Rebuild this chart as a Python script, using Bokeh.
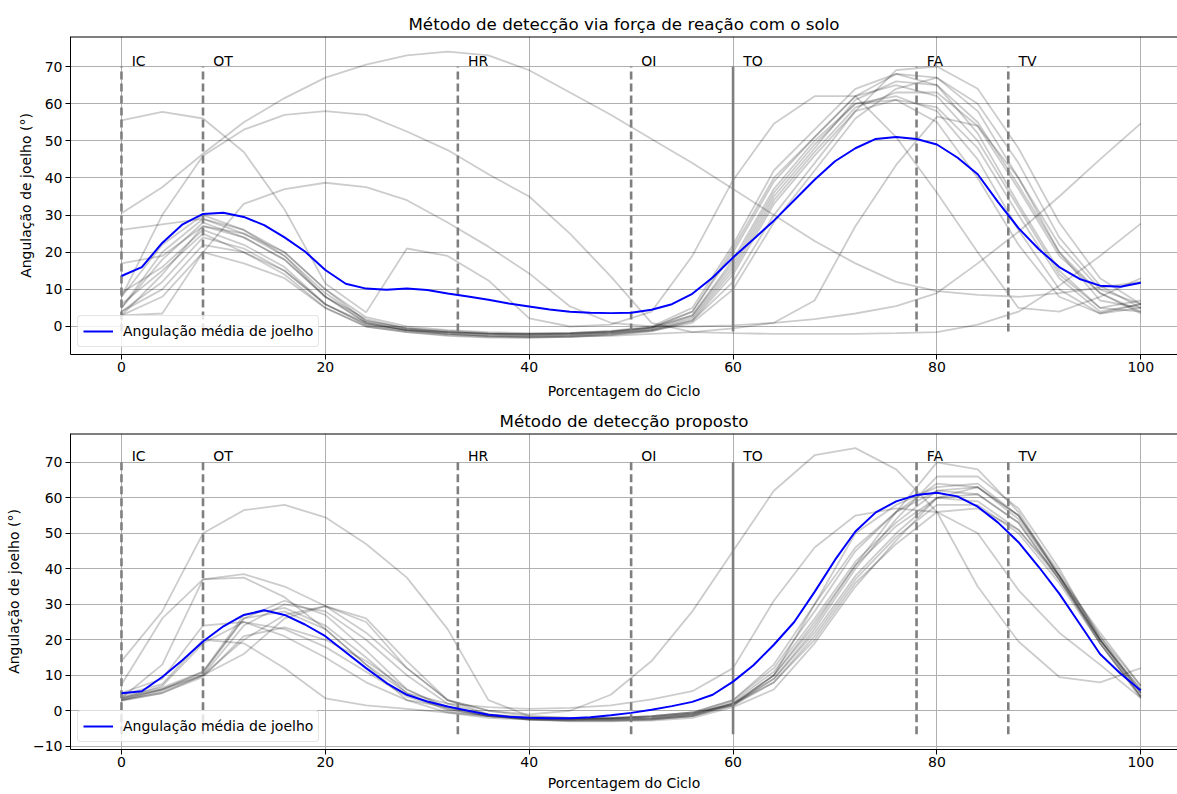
from bokeh.plotting import figure
from bokeh.models import Range1d, Span, FixedTicker, CustomJSTickFormatter, ColumnDataSource
from bokeh.layouts import column
from bokeh.embed import file_html
from bokeh.resources import INLINE
from bokeh.core.properties import value

FONT = "DejaVu Sans"

# ---------------- data ----------------
X_TRIAL = list(range(0, 101, 4))   # percent of gait cycle, individual trials
X_MEAN = list(range(0, 101, 2))    # percent of gait cycle, mean curve

EVENT_X = [0, 8, 33, 50, 60, 78, 87]
EVENT_LABELS = ["IC", "OT", "HR", "OI", "TO", "FA", "TV"]
EVENT_SOLID = [False, False, False, False, True, False, False]

TITLE_TOP = "Método de detecção via força de reação com o solo"
TITLE_BOTTOM = "Método de detecção proposto"
X_LABEL = "Porcentagem do Ciclo"
Y_LABEL = "Angulação de joelho (°)"
LEGEND_LABEL = "Angulação média de joelho"

# top panel trials
top_c01 = [3, 14, 27, 25, 19, 8, 1, -1, -1.5, -2, -2.3, -2.2, -1.8, -1, 1.5, 14, 33, 46, 58, 61, 59, 48, 30, 13, 4, 6]
top_c02 = [5, 18, 28, 24, 18, 8, 2, -0.5, -1.2, -1.8, -2, -2, -1.5, -0.5, 3, 17, 36, 49, 60, 62, 58, 45, 26, 10, 3.5, 5]
top_c03 = [8, 22, 30, 26, 20, 10, 1.5, -0.5, -1.5, -2, -2.2, -2, -1.5, -0.3, 4, 20, 39, 51, 62, 65, 62, 50, 32, 14, 5, 7]
top_c04 = [9, 16, 26, 22, 16, 6, 0.5, -1, -2, -2.5, -2.8, -2.5, -2, -1, 2, 15, 34, 47, 59, 63, 63, 54, 37, 19, 9, 4]
top_c05 = [4, 12, 24, 21, 15, 6, 0.5, -1.2, -2, -2.5, -2.5, -2.3, -1.8, -0.8, 2.5, 16, 35, 48, 61, 66, 65, 55, 38, 20, 9, 3.5]
top_c06 = [5, 20, 29, 25, 20, 10, 2.5, 0, -1, -1.5, -1.8, -1.7, -1.2, 0, 5, 22, 42, 53, 64, 68, 65, 52, 33, 15, 5, 4]
top_c07 = [6, 15, 25, 20, 14, 5, 0, -1.5, -2.3, -2.8, -3, -2.8, -2.3, -1.3, 1.5, 12, 30, 44, 58, 69, 70, 64, 48, 28, 13, 6]
top_c08 = [17, 19, 27, 24, 18, 8, 1, -1, -1.5, -2, -2, -1.8, -1.3, -0.3, 3, 18, 37, 50, 60, 61, 55, 40, 22, 8, 3.5, 6]
top_c09 = [3, 8, 20, 17, 13, 5, 0, -1.5, -2.5, -3, -3, -2.8, -2.2, -1.2, 1, 10, 28, 42, 56, 64, 67, 60, 44, 24, 11, 5]
top_c10 = [26, 27.5, 29, 26, 19, 9, 1.5, -0.5, -1.5, -2, -2, -1.8, -1.3, -0.3, 4, 21, 40, 51, 62, 68, 67, 58, 40, 20, 7, 5]
top_o1 = [30.5, 37.5, 46.5, 55, 61.5, 67, 70.5, 73, 74, 73, 69, 63, 57, 50.5, 44, 37, 30, 23, 17, 12, 9.5, 8.5, 8, 9, 10.5, 12]
top_o2 = [55.5, 57.8, 56, 47, 31.5, 11.6, 3.8, 21, 19, 12.4, 2.2, 0, 0.5, 4, 19, 39.4, 54.6, 62, 62, 51, 36, 20, 5, 4, 8, 13]
top_o3 = [8, 30, 46, 53, 57, 58, 57, 52.5, 47.5, 41, 35, 25, 13.5, 1, -1.5, -1.8, -2, -2, -2, -1.8, -1.5, 0.5, 4, 11, 19, 27.7]
top_o4 = [3, 3.5, 20, 33, 37, 38.7, 37.5, 34, 28, 21.5, 14.3, 5.4, 1, 0, 0, 0.3, 1, 2, 3.5, 5.5, 9, 17, 25.5, 35, 45, 54.7]
top_o6 = [4, 10, 22, 20, 15, 6, 1, -1, -2, -2.5, -2.7, -2.7, -2.5, -2, -1.5, -0.5, 1, 7, 27, 43.5, 56.5, 54, 40, 22, 10, 6]
TOP_TRIALS = [top_c01, top_c02, top_c03, top_c04, top_c05, top_c06, top_c07, top_c08,
              top_c09, top_c10, top_o1, top_o2, top_o3, top_o4, top_o6]

top_mean = [13.6, 16, 22.5, 27.5, 30.3, 30.6, 29.5, 27.3, 24, 20.2, 15.2, 11.5, 10.2, 9.9, 10.2,
            9.8, 8.9, 8.1, 7.2, 6.2, 5.4, 4.6, 4.0, 3.7, 3.6, 3.7, 4.5, 6.0, 8.8, 13.2, 18.6,
            23.5, 28.5, 34, 39.5, 44.5, 48, 50.5, 51, 50.5, 49, 45.5, 41, 33.5, 26.5, 20.8, 16,
            12.8, 11, 10.7, 11.8]

# bottom panel trials
bot_d01 = [3, 5.5, 10, 24, 30, 28, 20, 10, 2, -1, -2, -2.3, -2.3, -2, -1, 2, 10, 25, 41, 52, 60, 59, 51, 37, 20, 5]
bot_d02 = [3.5, 6, 10.5, 26, 31, 27, 17, 6, 0.5, -1.5, -2.5, -2.8, -2.8, -2.5, -1.5, 1.5, 8, 21, 37, 49, 58, 58, 50, 36, 19, 4]
bot_d03 = [2.8, 5, 10, 20, 27, 29.5, 25, 12, 3, -1, -2.5, -3, -3, -2.8, -2, 1, 6, 19, 35, 48, 60, 63, 55, 38, 20, 6]
bot_d04 = [4, 6.5, 11, 26, 28, 23, 13, 3, -0.5, -2, -2.5, -2.5, -2.2, -1.5, -0.5, 3, 12, 28, 45, 56, 64, 63, 54, 38, 21, 7]
bot_d05 = [3, 5, 9.5, 21, 23.5, 20, 14, 6, 1, -1.5, -2.2, -2.5, -2.5, -2.2, -1.2, 2, 9, 22, 38, 50, 60, 61, 53, 37, 19, 4]
bot_d06 = [5, 9, 24, 25, 21, 15, 8, 3, 1, -1, -2, -2.2, -2.2, -2, -1, 2.5, 11, 26, 42, 53, 62, 63, 55, 39, 21, 5]
bot_d07 = [3.5, 7, 19, 25, 23, 18, 11, 4, 0.5, -1.5, -2.5, -2.8, -2.8, -2.5, -1.5, 1.5, 9, 23, 40, 54, 66, 66, 57, 40, 20, 4]
bot_d08 = [4.5, 7.5, 20, 19, 12, 3.5, 1.5, 0.5, -0.5, -1.5, -2, -2.2, -2, -1.5, -0.5, 3, 13, 30, 46, 56, 62, 61, 53, 37, 20, 6]
bot_d09 = [3, 6, 10, 16, 26, 29.5, 26, 14, 3, 0, -1.5, -2, -2, -1.7, -0.8, 2, 10, 24, 41, 56, 70, 68, 56, 38, 19, 3.5]
bot_d10 = [3.5, 6, 11, 27, 29, 24, 15, 5, 0, -1.5, -2.2, -2.5, -2.5, -2.3, -1.5, 2, 8, 20, 36, 47, 56, 57, 51, 38, 22, 7]
bot_b1 = [7.4, 26, 37, 37.5, 32, 23, 13, 5, 2, 1, 0.5, 0.8, 1.5, 3.2, 5.5, 12, 31, 46, 55, 57, 56, 50, 34, 22, 13, 3.6]
bot_b2 = [3.6, 13, 37, 38.5, 35, 29.5, 22, 12, 3, 0, -1, 0, 4.5, 14, 28, 45, 62, 72, 74, 68, 56, 35, 19.5, 9.5, 8, 12]
bot_oa = [14, 28, 50, 56.5, 58, 54.5, 47, 37.5, 23, 3, -1.5, -2, -2, -1.5, -0.5, 1.5, 10, 30, 50, 58, 63, 64, 55, 38, 20, 5]
BOT_TRIALS = [bot_d01, bot_d02, bot_d03, bot_d04, bot_d05, bot_d06, bot_d07, bot_d08,
              bot_d09, bot_d10, bot_b1, bot_b2, bot_oa]

bot_mean = [4.9, 5.5, 9.5, 14.3, 19.5, 23.8, 27, 28.3, 27, 24.3, 21, 16.5, 12, 7.8, 4.5, 2.6,
            1.2, 0, -1.1, -1.7, -2, -2.1, -2.1, -1.8, -1.3, -0.6, 0.3, 1.3, 2.5, 4.5, 8.2, 12.8,
            18.6, 25, 33.5, 42.5, 50.5, 55.9, 59, 60.8, 61.4, 60.4, 57.5, 53, 47.5, 40.5, 33,
            24.5, 16, 10.5, 5.7]

TOP_YTICKS = [0, 10, 20, 30, 40, 50, 60, 70]
BOT_YTICKS = [-10, 0, 10, 20, 30, 40, 50, 60, 70]
XTICKS = [0, 20, 40, 60, 80, 100]


def make_panel(title, trials, mean, y0, y1, vmin, yticks, height, b_top, b_bottom, xlab_standoff):
    p = figure(width=1177, height=height, x_range=Range1d(-5, 103.6), y_range=Range1d(y0, y1),
               output_backend="svg", toolbar_location=None,
               min_border_left=70, min_border_right=0,
               min_border_top=b_top, min_border_bottom=b_bottom)
    p.title.text = title
    p.title.text_font = FONT
    p.title.text_font_size = "16.7px"
    p.title.text_font_style = "normal"
    p.title.text_color = "black"
    p.title.align = "center"
    p.title.offset = 7
    p.title.standoff = 5
    p.outline_line_color = None
    p.background_fill_color = "white"
    p.border_fill_color = "white"

    # axes
    for ax in (p.xaxis[0], p.yaxis[0]):
        ax.axis_line_color = "black"
        ax.axis_line_width = 1
        ax.major_tick_line_color = "black"
        ax.major_tick_out = 5
        ax.major_tick_in = 0
        ax.minor_tick_line_color = None
        ax.major_label_text_font = FONT
        ax.major_label_text_font_size = "14px"
        ax.major_label_text_color = "black"
        ax.axis_label_text_font = FONT
        ax.axis_label_text_font_size = "14px"
        ax.axis_label_text_font_style = "normal"
        ax.axis_label_text_color = "black"
    p.xaxis.ticker = FixedTicker(ticks=XTICKS)
    p.yaxis.ticker = FixedTicker(ticks=yticks)
    p.xaxis.axis_label = X_LABEL
    p.yaxis.axis_label = Y_LABEL
    p.xaxis.major_label_standoff = 2
    p.xaxis.axis_label_standoff = xlab_standoff
    p.yaxis.major_label_standoff = 3
    p.yaxis.axis_label_standoff = 8
    p.yaxis.formatter = CustomJSTickFormatter(
        code="return tick < 0 ? '\u2212' + Math.abs(tick) : String(tick);")

    p.xgrid.ticker = FixedTicker(ticks=XTICKS)
    p.ygrid.ticker = FixedTicker(ticks=yticks)
    p.grid.grid_line_color = "#b0b0b0"
    p.grid.grid_line_width = 1

    # top spine
    p.add_layout(Span(location=y1, dimension="width", line_color="black", line_width=2))

    # trials
    p.multi_line(xs=[X_TRIAL] * len(trials), ys=trials, line_color="black",
                 line_alpha=0.2, line_width=1.8)

    # events
    dx = [x for x, s in zip(EVENT_X, EVENT_SOLID) if not s]
    sx = [x for x, s in zip(EVENT_X, EVENT_SOLID) if s]
    p.segment(x0=dx, y0=[vmin] * len(dx), x1=dx, y1=[70] * len(dx),
              line_color="#7f7f7f", line_width=2.6, line_dash="8 4")
    p.segment(x0=sx, y0=[vmin] * len(sx), x1=sx, y1=[70] * len(sx),
              line_color="#7f7f7f", line_width=2.6)
    src = ColumnDataSource(dict(x=[e + 1 for e in EVENT_X], y=[70] * len(EVENT_X), t=EVENT_LABELS))
    p.text(x="x", y="y", text="t", source=src, text_font=value(FONT),
           text_font_size="14px", text_baseline="bottom", text_align="left",
           text_color="black", y_offset=2)

    # mean
    p.line(X_MEAN, mean, line_color="blue", line_width=2, legend_label=LEGEND_LABEL)
    lg = p.legend[0]
    lg.location = "bottom_left"
    lg.margin = 7
    lg.padding = 5
    lg.spacing = 0
    lg.glyph_width = 30
    lg.label_standoff = 10
    lg.label_text_font = FONT
    lg.label_text_font_size = "14px"
    lg.label_text_color = "black"
    lg.border_line_color = "#cccccc"
    lg.border_line_width = 1
    lg.background_fill_alpha = 0.8
    try:
        lg.border_radius = 4
    except Exception:
        pass
    return p


p1 = make_panel(TITLE_TOP, TOP_TRIALS, top_mean, -7.54, 78.08, -1.35, TOP_YTICKS, 403, 36, 49, 8)
p2 = make_panel(TITLE_BOTTOM, BOT_TRIALS, bot_mean, -10.92, 78.12, -6.6, BOT_YTICKS, 391, 30, 45, 5)

layout = column(p1, p2, spacing=0)
open("out.html", "w").write(file_html(layout, INLINE))
